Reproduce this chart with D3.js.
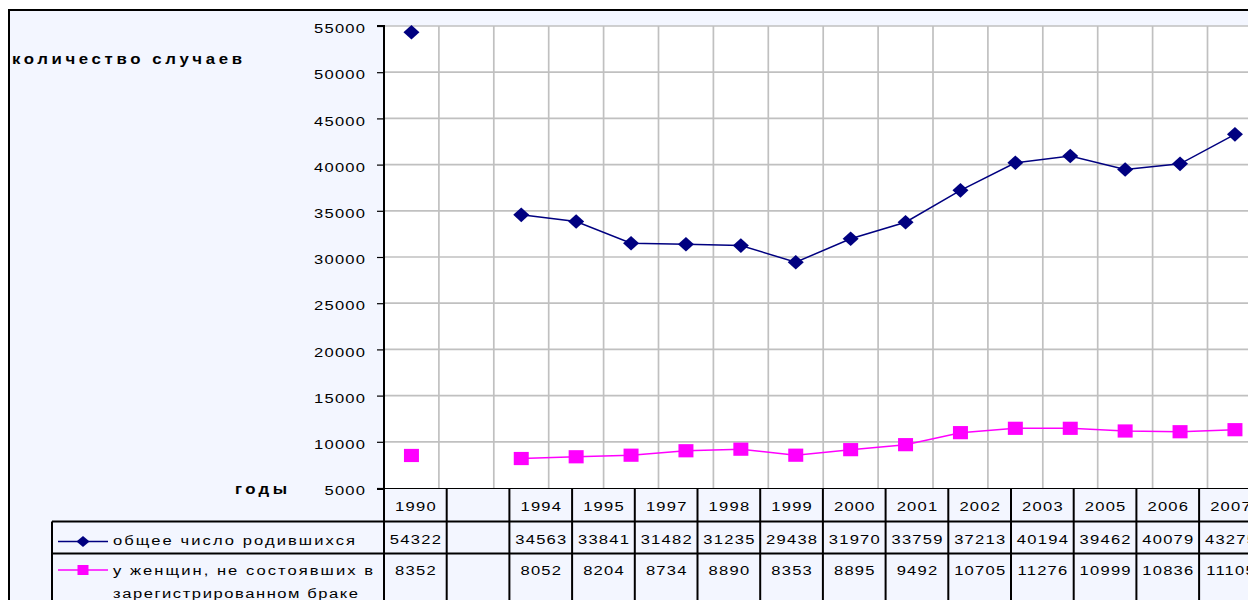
<!DOCTYPE html>
<html><head><meta charset="utf-8">
<script src="https://cdn.jsdelivr.net/npm/d3@7"></script>
<style>html,body{margin:0;padding:0;background:#fff;overflow:hidden}svg{display:block}text{font-family:Arial,"Liberation Sans",sans-serif}</style>
</head><body>
<script>
// plotted categories (the plot has more years than the data table shows)
const plotCategories = ["1990","","1994","1995","1996","1997","1998","1999","2000","2001","2002","2003","2004","2005","2006","2007"];
const totalBirths = [54322,null,34563,33841,31482,31380,31235,29438,31970,33759,37213,40194,40930,39462,40079,43275];
const unmarriedBirths = [8520,null,8190,8380,8550,9030,9200,8550,9150,9690,10990,11460,11460,11170,11090,11310];

// data table below the chart
const tableYears = ["1990","","1994","1995","1997","1998","1999","2000","2001","2002","2003","2005","2006","2007"];
const tableTotal = ["54322","","34563","33841","31482","31235","29438","31970","33759","37213","40194","39462","40079","43275"];
const tableUnmarried = ["8352","","8052","8204","8734","8890","8353","8895","9492","10705","11276","10999","10836","11105"];

const yTicks = [5000,10000,15000,20000,25000,30000,35000,40000,45000,50000,55000];
const seriesNames = ["общее число родившихся","у женщин, не состоявших в","зарегистрированном браке"];
const yTitle = "количество случаев";
const xTitle = "годы";

const W = 1248, H = 600;
const BG = "#F3F6FF";
const NAVY = "#000080", PINK = "#FF00FF";
const SX = 1.38;   // horizontal stretch of the text, as in the reference
const LS = 0.9;    // letter spacing (local units)

const svg = d3.select("body").append("svg").attr("width", W).attr("height", H);

function txt(g, x, y, str, o = {}) {
  const sx = o.sx || SX;
  const t = g.append("text")
    .attr("transform", `translate(${x},${y}) scale(${sx},1)`)
    .attr("font-size", o.size || 12)
    .attr("font-weight", o.weight || "normal")
    .attr("text-anchor", o.anchor || "start")
    .attr("fill", "#000")
    .text(str);
  if (o.len) t.attr("textLength", o.len / sx).attr("lengthAdjust", "spacing");
  else t.style("letter-spacing", (o.ls != null ? o.ls : LS) + "px");
  if (o.anchor === "middle") t.attr("x", (o.ls != null ? o.ls : LS) / 2);
  if (o.anchor === "end") t.attr("x", (o.ls != null ? o.ls : LS));
  return t;
}

// outer chart area
svg.append("rect").attr("x", 9).attr("y", 10).attr("width", 1400).attr("height", 700)
  .attr("fill", BG).attr("stroke", "#000").attr("stroke-width", 2);

const plotLeft = 384, plotTop = 26, plotBottom = 488;
const x = d3.scaleBand().domain(d3.range(plotCategories.length))
  .range([plotLeft, plotLeft + plotCategories.length * 54.9]).padding(0);
const y = d3.scaleLinear().domain([5000, 55000]).range([plotBottom, plotTop]);

// plot area
svg.append("rect").attr("x", plotLeft).attr("y", plotTop)
  .attr("width", 1400).attr("height", plotBottom - plotTop).attr("fill", "#fff");

const grid = svg.append("g");
grid.selectAll("line.h").data(yTicks.slice(1)).join("line")
  .attr("x1", plotLeft).attr("x2", 1400).attr("y1", d => y(d)).attr("y2", d => y(d))
  .attr("stroke", "#C0C0C0").attr("stroke-width", 1.7);
grid.selectAll("line.v").data(d3.range(1, plotCategories.length + 1)).join("line")
  .attr("x1", i => plotLeft + i * x.step()).attr("x2", i => plotLeft + i * x.step())
  .attr("y1", plotTop).attr("y2", plotBottom)
  .attr("stroke", "#C0C0C0").attr("stroke-width", 1.7);

// y axis
const yAxis = d3.axisLeft(y).tickValues(yTicks).tickSize(7).tickPadding(0).tickFormat(d3.format("d"));
const ya = svg.append("g").attr("transform", `translate(${plotLeft},0)`).call(yAxis);
ya.select(".domain").attr("stroke", "#000").attr("stroke-width", 2).attr("d", `M-7,${plotTop}H0V${plotBottom + 1}`);
ya.selectAll(".tick line").attr("stroke", "#000").attr("stroke-width", 1.2);
ya.selectAll(".tick text")
  .attr("transform", `translate(-19,6.6) scale(${SX},1)`)
  .attr("x", LS).attr("dy", null).attr("text-anchor", "end")
  .attr("font-size", 12).attr("fill", "#000").style("letter-spacing", LS + "px")
  .attr("font-family", "Arial, 'Liberation Sans', sans-serif");

// axis titles
txt(svg, 12, 64, yTitle, {size: 14, weight: "bold", len: 230, sx: 1.2});
txt(svg, 235, 494, xTitle, {size: 14, weight: "bold", len: 52, sx: 1.2});

// series lines
const cx = i => x(i) + x.bandwidth() / 2;
function drawSeries(vals, color, shape, w, h) {
  const line = d3.line().defined(d => d != null).x((d, i) => cx(i)).y(d => y(d));
  svg.append("path").datum(vals).attr("d", line).attr("fill", "none")
    .attr("stroke", color).attr("stroke-width", 1.5);
  const pts = vals.map((v, i) => ({v, i})).filter(d => d.v != null);
  svg.selectAll(null).data(pts).join("path")
    .attr("d", d => shape(cx(d.i), y(d.v), w, h)).attr("fill", color);
}
const diamond = (cx, cy, w, h) => `M${cx},${cy - h}L${cx + w},${cy}L${cx},${cy + h}L${cx - w},${cy}Z`;
const square = (cx, cy, w, h) => `M${cx - w},${cy - h}H${cx + w}V${cy + h}H${cx - w}Z`;
drawSeries(totalBirths, NAVY, diamond, 8, 7.3);
drawSeries(unmarriedBirths, PINK, square, 7.5, 6.6);

// x axis line / table top
svg.append("line").attr("x1", plotLeft - 7).attr("x2", 1400).attr("y1", plotBottom + 1).attr("y2", plotBottom + 1)
  .attr("stroke", "#000").attr("stroke-width", 2);

// data table
const tx = d3.scaleBand().domain(d3.range(tableYears.length))
  .range([plotLeft, plotLeft + tableYears.length * 62.7]);
const rowY = [489, 521.5, 553.5, 700];
const table = svg.append("g");
table.append("rect").attr("x", plotLeft).attr("y", rowY[0]).attr("width", 1400).attr("height", 32.5).attr("fill", BG);
table.append("rect").attr("x", 52).attr("y", rowY[1]).attr("width", 1400).attr("height", 300).attr("fill", BG);
[rowY[1], rowY[2]].forEach(yy => table.append("line").attr("x1", 52).attr("x2", 1400)
  .attr("y1", yy).attr("y2", yy).attr("stroke", "#000").attr("stroke-width", 2));
table.append("line").attr("x1", 52).attr("x2", 52).attr("y1", rowY[1]).attr("y2", 700)
  .attr("stroke", "#000").attr("stroke-width", 2);
table.selectAll("line.col").data(d3.range(tableYears.length + 1)).join("line")
  .attr("x1", i => plotLeft + i * tx.step()).attr("x2", i => plotLeft + i * tx.step())
  .attr("y1", rowY[0]).attr("y2", 700).attr("stroke", "#000").attr("stroke-width", 2);

function rowText(vals, baseline) {
  vals.forEach((d, i) => { if (d) txt(table, tx(i) + tx.bandwidth() / 2, baseline, d, {anchor: "middle"}); });
}
rowText(tableYears, 511);
rowText(tableTotal, 544);
rowText(tableUnmarried, 575);

// legend keys in the table
table.append("line").attr("x1", 58).attr("x2", 108).attr("y1", 541.5).attr("y2", 541.5).attr("stroke", NAVY).attr("stroke-width", 1.5);
table.append("path").attr("d", diamond(83, 541.5, 6.5, 5.5)).attr("fill", NAVY);
table.append("line").attr("x1", 58).attr("x2", 108).attr("y1", 570).attr("y2", 570).attr("stroke", PINK).attr("stroke-width", 1.5);
table.append("path").attr("d", square(83, 570, 5.5, 5)).attr("fill", PINK);
txt(table, 113, 545, seriesNames[0], {len: 242});
txt(table, 113, 575, seriesNames[1], {len: 260});
txt(table, 113, 598, seriesNames[2], {len: 245});
</script>
</body></html>
